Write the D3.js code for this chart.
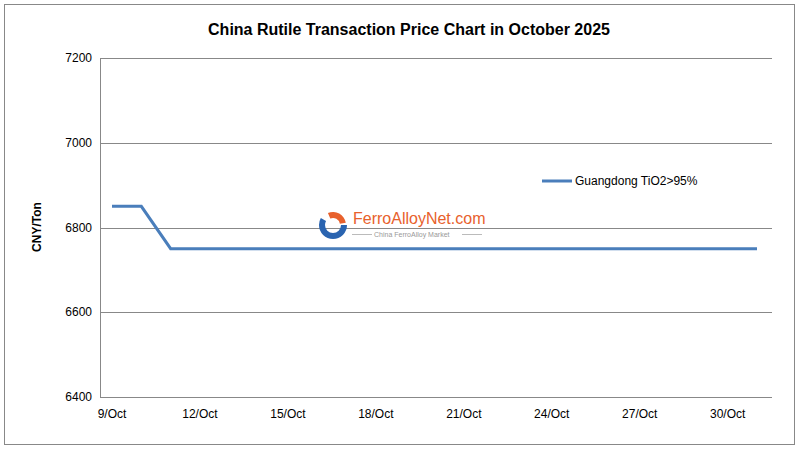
<!DOCTYPE html>
<html><head><meta charset="utf-8">
<script src="https://cdn.jsdelivr.net/npm/d3@7"></script>
<style>body{margin:0;background:#fff}text{font-family:Arial,"Liberation Sans",sans-serif}</style>
</head><body>
<svg id="chart" width="800" height="451"></svg>
<script>
// daily dates 9/Oct .. 31/Oct
var days = d3.range(9, 32).map(function(d) { return d + "/Oct"; });
var prices = [6850, 6850, 6750, 6750, 6750, 6750, 6750, 6750, 6750, 6750, 6750, 6750,
  6750, 6750, 6750, 6750, 6750, 6750, 6750, 6750, 6750, 6750, 6750];
var tickLabels = ["9/Oct", "12/Oct", "15/Oct", "18/Oct", "21/Oct", "24/Oct", "27/Oct", "30/Oct"];
var yTicks = [6400, 6600, 6800, 7000, 7200];

var svg = d3.select("#chart");
svg.append("rect").attr("x", 4.5).attr("y", 4.5).attr("width", 790).attr("height", 440)
  .attr("fill", "#fff").attr("stroke", "#888");

var x = d3.scalePoint().domain(days).range([112, 757]);
var y = d3.scaleLinear().domain([6400, 7200]).range([397, 58]);

// grid
svg.selectAll(".grid").data(yTicks).enter().append("line")
  .attr("x1", 100).attr("x2", 772)
  .attr("y1", function(d) { return Math.round(y(d)) + 0.5; })
  .attr("y2", function(d) { return Math.round(y(d)) + 0.5; })
  .attr("stroke", "#888").attr("stroke-width", 1);
svg.append("line").attr("x1", 100.5).attr("x2", 100.5).attr("y1", 58).attr("y2", 397.5).attr("stroke", "#888");

svg.selectAll(".yl").data(yTicks).enter().append("text")
  .attr("x", 92).attr("y", function(d) { return y(d) + 4; })
  .attr("text-anchor", "end").attr("font-size", 12).text(function(d) { return d; });

svg.selectAll(".xl").data(tickLabels).enter().append("text")
  .attr("x", function(d) { return x(d); }).attr("y", 418)
  .attr("text-anchor", "middle").attr("font-size", 12).text(function(d) { return d; });

svg.append("text").attr("transform", "translate(41,227) rotate(-90)")
  .attr("text-anchor", "middle").attr("font-size", 12).attr("font-weight", "bold").text("CNY/Ton");

svg.append("text").attr("x", 409).attr("y", 35).attr("text-anchor", "middle")
  .attr("font-size", 16).attr("font-weight", "bold").text("China Rutile Transaction Price Chart in October 2025");

// watermark
var wm = svg.append("g");
wm.append("circle").attr("cx", 333).attr("cy", 225).attr("r", 11).attr("fill", "none")
  .attr("stroke", "#2a64b0").attr("stroke-width", 6).attr("stroke-dasharray", "40 30");
wm.append("path").attr("d", d3.arc()({innerRadius: 7, outerRadius: 13, startAngle: -0.4, endAngle: 1.4}))
  .attr("transform", "translate(333,225)").attr("fill", "#e8612c");
wm.append("text").attr("x", 353).attr("y", 224).attr("font-size", 16).attr("fill", "#e8612c").text("FerroAlloyNet.com");
wm.append("text").attr("x", 374).attr("y", 237).attr("font-size", 7).attr("fill", "#999").text("China FerroAlloy Market");
wm.append("line").attr("x1", 352).attr("x2", 372).attr("y1", 234.5).attr("y2", 234.5).attr("stroke", "#bbb");
wm.append("line").attr("x1", 462).attr("x2", 482).attr("y1", 234.5).attr("y2", 234.5).attr("stroke", "#bbb");

// series
svg.append("path").datum(prices)
  .attr("d", d3.line().x(function(d, i) { return x(days[i]); }).y(function(d) { return y(d); }))
  .attr("fill", "none").attr("stroke", "#4a7ebb").attr("stroke-width", 3);

// legend
svg.append("line").attr("x1", 542).attr("x2", 572).attr("y1", 181).attr("y2", 181)
  .attr("stroke", "#4a7ebb").attr("stroke-width", 3);
svg.append("text").attr("x", 575).attr("y", 185).attr("font-size", 12).text("Guangdong TiO2>95%");
</script>
</body></html>
